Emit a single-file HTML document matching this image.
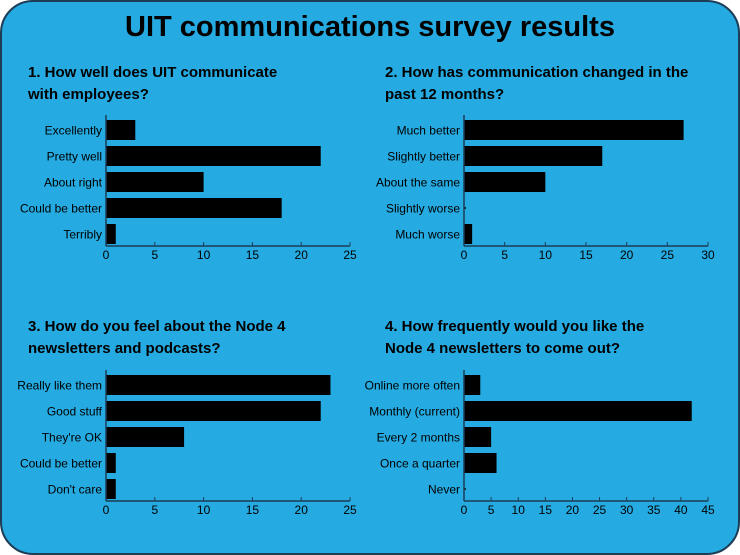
<!DOCTYPE html>
<html><head><meta charset="utf-8"><style>
html,body{margin:0;padding:0;background:#fff}
svg{display:block;font-family:"Liberation Sans",sans-serif}
</style></head><body>
<svg width="740" height="555" viewBox="0 0 740 555">
<rect x="1" y="1" width="738" height="553" rx="32" ry="32" fill="#25aae1" stroke="#1d3d57" stroke-width="2"/>
<text x="370" y="36" text-anchor="middle" font-size="29" font-weight="bold" fill="#000">UIT communications survey results</text>
<g id="charts"></g>
</svg>
<script>
const cats1=["Excellently","Pretty well","About right","Could be better","Terribly"];
const vals1=[3,22,10,18,1];
const ticks1=[0,5,10,15,20,25];
const cats2=["Much better","Slightly better","About the same","Slightly worse","Much worse"];
const vals2=[27,17,10,0,1];
const ticks2=[0,5,10,15,20,25,30];
const cats3=["Really like them","Good stuff","They're OK","Could be better","Don't care"];
const vals3=[23,22,8,1,1];
const ticks3=[0,5,10,15,20,25];
const cats4=["Online more often","Monthly (current)","Every 2 months","Once a quarter","Never"];
const vals4=[3,42,5,6,0];
const ticks4=[0,5,10,15,20,25,30,35,40,45];

const NS="http://www.w3.org/2000/svg";
const root=document.getElementById('charts');
function mk(tag,attrs,parent){const e=document.createElementNS(NS,tag);for(const k in attrs)e.setAttribute(k,attrs[k]);parent.appendChild(e);return e;}
function chart(id,title,tx,ty,cats,vals,ticks,x0,x1,yTop,rowStep,axisY){
  const g=mk('g',{},root);
  
  
  title.forEach((line,i)=>{
    const t=mk('text',{x:tx,y:ty+i*22,'font-size':'15','font-weight':'bold',fill:'#000'},g);
    t.textContent=line;
    
    
  });
  const max=ticks[ticks.length-1];
  const sx=v=>x0+(x1-x0)*v/max;
  const sy=i=>yTop+rowStep*i;
  const bh=20;
  cats.forEach((c,i)=>{
    const cy=sy(i);
    const lab=mk('text',{x:x0-4,y:cy+4.5,'font-size':'12','text-anchor':'end',fill:'#000'},g);
    lab.textContent=c;
    
    
    const r=mk('rect',{x:sx(0),y:cy-bh/2,width:Math.max(sx(vals[i])-sx(0),vals[i]>0?0:2),height:vals[i]>0?bh:1.5,fill:'#000'},g);
    if(vals[i]==0){r.setAttribute('y',cy-0.75);}
    
    
  });
  const ax=mk('line',{x1:x0,y1:yTop-rowStep/2-2,x2:x0,y2:axisY,stroke:'#1d3d57','stroke-width':1.5},g);
  
  
  const bx=mk('line',{x1:x0,y1:axisY,x2:x1,y2:axisY,stroke:'#1d3d57','stroke-width':1.5},g);
  
  
  ticks.forEach(v=>{
    mk('line',{x1:sx(v),y1:axisY,x2:sx(v),y2:axisY-4,stroke:'#1d3d57','stroke-width':1},g);
    const t=mk('text',{x:sx(v),y:axisY+13,'font-size':'12','text-anchor':'middle',fill:'#000'},g);
    t.textContent=v;
    
    
  });
}
chart('chart-q1',["1. How well does UIT communicate","with employees?"],28,77,cats1,vals1,ticks1,106,350,130,26,246);
chart('chart-q2',["2. How has communication changed in the","past 12 months?"],385,77,cats2,vals2,ticks2,464,708,130,26,246);
chart('chart-q3',["3. How do you feel about the Node 4","newsletters and podcasts?"],28,331,cats3,vals3,ticks3,106,350,385,26,501);
chart('chart-q4',["4. How frequently would you like the","Node 4 newsletters to come out?"],385,331,cats4,vals4,ticks4,464,708,385,26,501);
</script>
</body></html>
